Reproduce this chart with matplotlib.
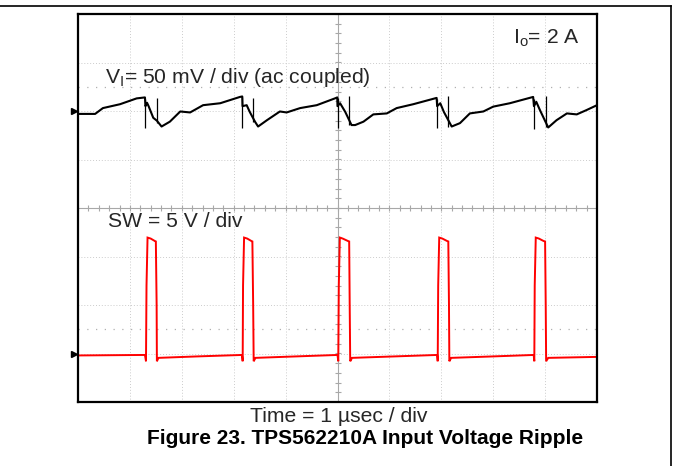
import numpy as np
import matplotlib
matplotlib.use("Agg")
import matplotlib.pyplot as plt
from matplotlib.lines import Line2D

plt.rcParams['font.family'] = ['Liberation Sans', 'DejaVu Sans']
plt.rcParams['mathtext.fontset'] = 'custom'
plt.rcParams['mathtext.rm'] = 'Liberation Sans'

# time in usec (1 usec / div), amplitude in screen divisions
# input voltage ripple (50 mV / div, ac coupled)
vin_t = [0.0, 0.33, 0.48, 0.81, 1.13, 1.29, 1.30, 1.33, 1.36, 1.45, 1.52, 1.61,
         1.77, 1.97, 2.16, 2.41, 2.74, 3.12, 3.165, 3.17, 3.25, 3.31, 3.41, 3.47,
         3.64, 3.89, 4.02, 4.28, 4.60, 4.95, 4.995, 5.00, 5.05, 5.15, 5.27, 5.34,
         5.50, 5.69, 5.95, 6.14, 6.46, 6.91, 6.92, 6.98, 7.05, 7.20, 7.36, 7.55,
         7.81, 8.00, 8.32, 8.77, 8.785, 8.83, 8.90, 9.06, 9.22, 9.42, 9.61, 9.80, 10.0]
vin_v = [1.94, 1.94, 2.06, 2.14, 2.26, 2.28, 2.10, 2.17, 2.10, 1.86, 1.80, 1.68,
         1.78, 1.99, 1.97, 2.12, 2.16, 2.29, 2.30, 2.10, 2.12, 1.98, 1.78, 1.68,
         1.81, 1.99, 1.97, 2.06, 2.12, 2.26, 2.28, 2.10, 2.16, 1.98, 1.71, 1.71,
         1.78, 1.93, 1.95, 2.06, 2.14, 2.27, 2.10, 2.16, 1.98, 1.68, 1.75, 1.95,
         1.99, 2.09, 2.16, 2.29, 2.10, 2.19, 2.02, 1.66, 1.81, 1.95, 1.93, 2.02, 2.12]

# narrow spikes on the ripple at the switching edges
spike_t = [1.295, 1.522, 3.166, 3.378, 5.000, 5.222, 6.923, 7.135, 8.786, 9.017]
spike_lo = [1.65, 1.75, 1.64, 1.78, 1.65, 1.71, 1.64, 1.68, 1.62, 1.66]
spike_hi = [2.25, 2.27, 2.28, 2.27, 2.26, 2.30, 2.25, 2.30, 2.25, 2.31]

# switch node (5 V / div)
sw_t = [0.0, 1.29, 1.31, 1.32, 1.34, 1.40, 1.48, 1.50, 1.515, 1.52, 1.55, 2.30,
        3.16, 3.173, 3.18, 3.20, 3.26, 3.34, 3.36, 3.375, 3.385, 3.42, 4.20,
        5.00, 5.015, 5.025, 5.045, 5.10, 5.20, 5.225, 5.235, 5.245, 5.28, 6.10,
        6.92, 6.931, 6.94, 6.96, 7.02, 7.11, 7.135, 7.148, 7.155, 7.19, 8.00,
        8.78, 8.792, 8.80, 8.82, 8.88, 8.97, 9.00, 9.012, 9.02, 9.06, 10.0]
sw_v = [-3.04, -3.03, -3.16, -1.60, -0.61, -0.63, -0.68, -0.69, -2.00, -3.16, -3.09, -3.06,
        -3.03, -3.16, -1.60, -0.61, -0.63, -0.68, -0.69, -2.00, -3.16, -3.09, -3.06,
        -3.03, -3.16, -1.60, -0.61, -0.63, -0.68, -0.69, -2.00, -3.16, -3.09, -3.06,
        -3.03, -3.16, -1.60, -0.61, -0.63, -0.68, -0.69, -2.00, -3.16, -3.09, -3.06,
        -3.03, -3.16, -1.60, -0.61, -0.63, -0.68, -0.69, -2.00, -3.16, -3.09, -3.07]

# channel reference markers
ref_levels = [2.0, -3.0]

fig = plt.figure(figsize=(6.73, 4.66), dpi=100)
ax = fig.add_axes([78 / 673, 1 - 402 / 466, 519 / 673, 388 / 466])
ax.set_xlim(0, 10)
ax.set_ylim(-4, 4)

# scope graticule
ax.set_xticks(np.arange(0, 11))
ax.set_yticks(np.arange(-4, 5))
ax.tick_params(length=0, labelbottom=False, labelleft=False)
ax.grid(True, ls=(0, (1, 2)), color='#cccccc', lw=0.7)
for y in (2.5, -2.5):
    ax.axhline(y, ls=(0, (1, 6)), color='#b0b0b0', lw=0.9)
ax.axhline(0, color='#a8a8a8', lw=0.8)
ax.axvline(5, color='#a8a8a8', lw=0.8)
minor = np.arange(-4, 4.01, 0.2)
ax.plot(np.full_like(minor, 5), minor, ls='none', marker='_', ms=5, color='#a8a8a8', mew=0.8)
minor_x = np.arange(0, 10.01, 0.2)
ax.plot(minor_x, np.zeros_like(minor_x), ls='none', marker='|', ms=5, color='#a8a8a8', mew=0.8)
for s in ax.spines.values():
    s.set_linewidth(1.6)

ax.plot(sw_t, sw_v, color='#ff0000', lw=1.4, solid_joinstyle='miter')
ax.plot(vin_t, vin_v, color='black', lw=1.5)
ax.vlines(spike_t, spike_lo, spike_hi, color='black', lw=0.9)

ax.plot([-0.07] * len(ref_levels), ref_levels, ls='none', marker='>', ms=5,
        color='black', clip_on=False)

tc = '#262626'
ax.text(0.52, 2.70, r'V$_\mathregular{I}$= 50 mV / div (ac coupled)', fontsize=15.2,
        color=tc, va='center')
ax.text(9.67, 3.50, r'I$_\mathregular{o}$= 2 A', fontsize=15.2, color=tc, va='center', ha='right')
ax.text(0.57, -0.28, 'SW = 5 V / div', fontsize=15.2, color=tc, va='center')

fig.text(339 / 673, 1 - 416 / 466, 'Time = 1 µsec / div', fontsize=15.2, color=tc,
         ha='center', va='center')
fig.text(365 / 673, 1 - 438 / 466, 'Figure 23. TPS562210A Input Voltage Ripple',
         fontsize=15, fontweight='bold', ha='center', va='center')

# outer page frame lines
fig.add_artist(Line2D([0, 671 / 673], [1 - 6 / 466] * 2, color='black', lw=1.2))
fig.add_artist(Line2D([671 / 673] * 2, [0, 1 - 6 / 466], color='black', lw=1.2))

fig.savefig('out.png', dpi=100)
